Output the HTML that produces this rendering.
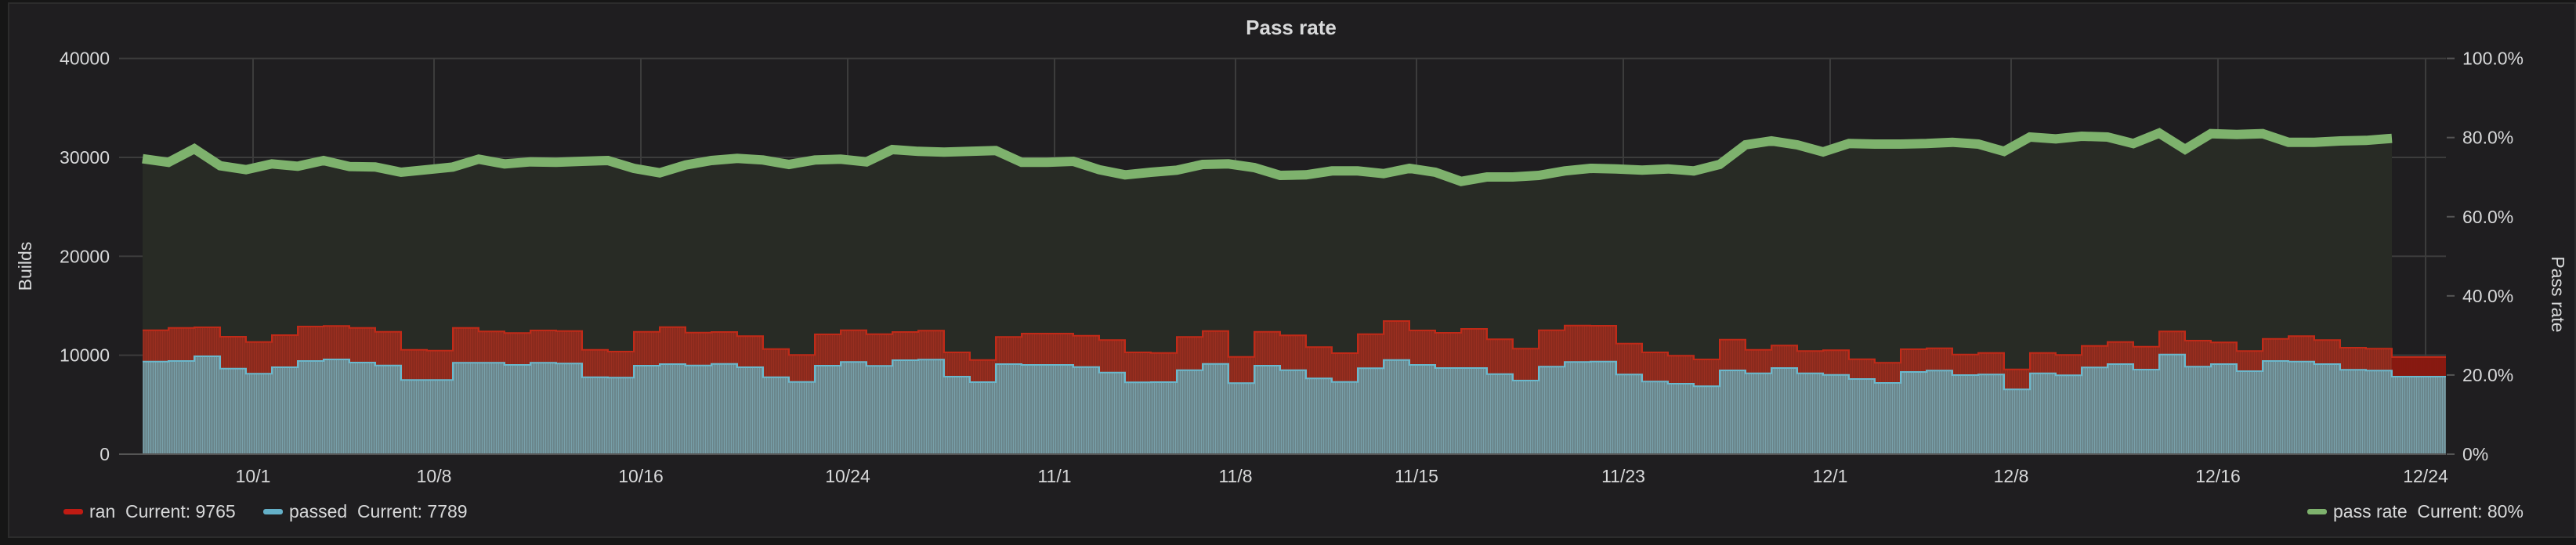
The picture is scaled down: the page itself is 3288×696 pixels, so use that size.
<!DOCTYPE html>
<html><head><meta charset="utf-8">
<style>
html,body{margin:0;padding:0;background:#161616;}
svg{display:block;font-family:"Liberation Sans",sans-serif;}
.pre{white-space:pre;}
</style></head>
<body>
<svg id="c" width="3288" height="696" viewBox="0 0 3288 696" xmlns="http://www.w3.org/2000/svg">
<defs>
<pattern id="pr" width="3" height="10" patternUnits="userSpaceOnUse"><rect width="3" height="10" fill="#8a2a1d"/><rect width="1" height="10" fill="#9a2f20"/></pattern>
<pattern id="pb" width="3" height="10" patternUnits="userSpaceOnUse"><rect width="3" height="10" fill="#6a868c"/><rect width="1" height="10" fill="#78a0aa"/></pattern>
</defs>
<rect x="0" y="0" width="3288" height="696" fill="#161616"/>
<rect x="11" y="4" width="3276" height="682" fill="#1f1e20" stroke="#2c2c2c" stroke-width="2"/>
<text x="1648" y="44" text-anchor="middle" font-size="26" font-weight="bold" fill="#d8d9da">Pass rate</text>
<g id="grid"></g>
<g id="series"></g>
<g id="axes" fill="#d8d9da" font-size="23"></g>
<text transform="translate(40,340) rotate(-90)" text-anchor="middle" font-size="23" fill="#d8d9da">Builds</text>
<text transform="translate(3257,376) rotate(90)" text-anchor="middle" font-size="23" fill="#d8d9da">Pass rate</text>
<g font-size="23" fill="#d8d9da">
<rect x="81" y="650" width="25" height="7" rx="3" fill="#bf1b13"/>
<text class="pre" x="114" y="661" xml:space="preserve">ran  Current: 9765</text>
<rect x="336" y="650" width="25" height="7" rx="3" fill="#64b0c8"/>
<text class="pre" x="369" y="661" xml:space="preserve">passed  Current: 7789</text>
<rect x="2945" y="650" width="25" height="7" rx="3" fill="#7eb26d"/>
<text class="pre" x="2978" y="661" xml:space="preserve">pass rate  Current: 80%</text>
</g>
</svg>
<script>
var ran=[815,806,804,840,860,834,801,799,806,821,890,893,806,820,826,816,818,890,897,821,803,824,822,
838,887,910,831,815,830,822,817,900,929,841,828,828,836,853,900,902,841,818,917,821,835,
880,903,830,780,816,825,810,850,886,815,797,798,866,900,913,927,851,890,874,895,892,926,
940,888,884,908,902,965,902,910,875,860,878,820,855,862,895,848,838,853,882,886,918];
var pas=[935,933,915,962,982,957,933,927,939,950,1006,1006,940,940,948,940,943,995,997,951,945,950,944,
957,995,1013,951,937,952,930,928,993,1014,945,948,948,956,977,1015,1014,968,944,1018,951,968,
1000,1013,961,929,948,960,960,983,1008,955,937,935,985,1012,1020,1030,969,980,960,980,986,1002,
1017,975,970,987,985,1042,980,988,958,945,966,908,955,945,972,933,935,945,967,970,993];
var grn=[158,172,120,185,200,178,187,165,188,190,210,200,190,160,178,170,172,168,165,195,212,182,165,
157,163,180,163,160,170,123,130,133,130,127,172,172,168,200,220,210,202,180,178,192,222,
220,205,205,215,195,210,245,228,228,222,205,195,197,202,197,205,180,105,90,105,132,100,
102,102,100,95,102,130,75,82,72,75,100,60,122,62,65,62,95,95,90,88,80];
function Y(d){return 150+d/3;}
var NS="http://www.w3.org/2000/svg";
function el(p,t,a){var e=document.createElementNS(NS,t);for(var k in a)e.setAttribute(k,a[k]);p.appendChild(e);return e;}
var grid=document.getElementById('grid'),ser=document.getElementById('series'),ax=document.getElementById('axes');
var B=580,T=74.6,L=152,R=3122;
var n=grn.length,x0=182,w=33;
var gp="M"+x0+" "+B;
for(var i=0;i<n;i++)gp+=" L"+(x0+w*i)+" "+Y(grn[i]).toFixed(1);
gp+=" L"+(x0+w*(n-1))+" "+B+" Z";
el(ser,'path',{d:gp,fill:"#282b25"});
var gc="#3c3c3c";
for(var j=0;j<=4;j++){var yy=B-(B-T)*j/4;el(grid,'line',{x1:L,x2:R,y1:yy,y2:yy,stroke:gc,"stroke-width":2});}
var ticks=[["10/1",323],["10/8",554],["10/16",818],["10/24",1082],["11/1",1346],["11/8",1577],["11/15",1808],["11/23",2072],["12/1",2336],["12/8",2567],["12/16",2831],["12/24",3096]];
ticks.forEach(function(t){el(grid,'line',{x1:t[1],x2:t[1],y1:T,y2:B,stroke:gc,"stroke-width":2});
var tx=el(ax,'text',{x:t[1],y:616,"text-anchor":"middle"});tx.textContent=t[0];});
var nb=ran.length;
function bx(i){return x0+w*i;}
function bx2(i){return i==nb-1?R:x0+w*(i+1);}
var rp="M"+x0+" "+B,rl="",pp="M"+x0+" "+B,pl="";
for(var i=0;i<nb;i++){
 var a=bx(i),b=bx2(i),yr=Y(ran[i]).toFixed(1),yb=Y(pas[i]).toFixed(1);
 rp+=" L"+a+" "+yr+" L"+b+" "+yr; pp+=" L"+a+" "+yb+" L"+b+" "+yb;
 rl+=(i?" L":"M")+a+" "+yr+" L"+b+" "+yr; pl+=(i?" L":"M")+a+" "+yb+" L"+b+" "+yb;
}
rp+=" L"+R+" "+B+" Z"; pp+=" L"+R+" "+B+" Z";
el(ser,'path',{d:rp,fill:"url(#pr)"});
el(ser,'path',{d:pp,fill:"url(#pb)"});
el(ser,'rect',{x:bx(nb-1),y:Y(ran[nb-1]),width:R-bx(nb-1),height:Y(pas[nb-1])-Y(ran[nb-1]),fill:"#86170f",opacity:0.9});
el(ser,'path',{d:rl,fill:"none",stroke:"#c02a18","stroke-width":2});
el(ser,'path',{d:pl,fill:"none",stroke:"#6ab8cc","stroke-width":2});
var gl="";for(var i=0;i<n;i++)gl+=(i?" L":"M")+(x0+w*i)+" "+Y(grn[i]).toFixed(1);
el(ser,'path',{d:gl,fill:"none",stroke:"#7eb26d","stroke-width":12,"stroke-linejoin":"miter"});
el(ser,'line',{x1:L,x2:R,y1:B,y2:B,stroke:"#555","stroke-width":2});
["0","10000","20000","30000","40000"].forEach(function(s,j){var t=el(ax,'text',{x:140,y:B-(B-T)*j/4+8,"text-anchor":"end"});t.textContent=s;});
["0%","20.0%","40.0%","60.0%","80.0%","100.0%"].forEach(function(s,j){var yy=B-(B-T)*j/5;
el(grid,'line',{x1:3123,x2:3133,y1:yy,y2:yy,stroke:"#555","stroke-width":2});
var t=el(ax,'text',{x:3143,y:yy+8});t.textContent=s;});
</script>
</body></html>
